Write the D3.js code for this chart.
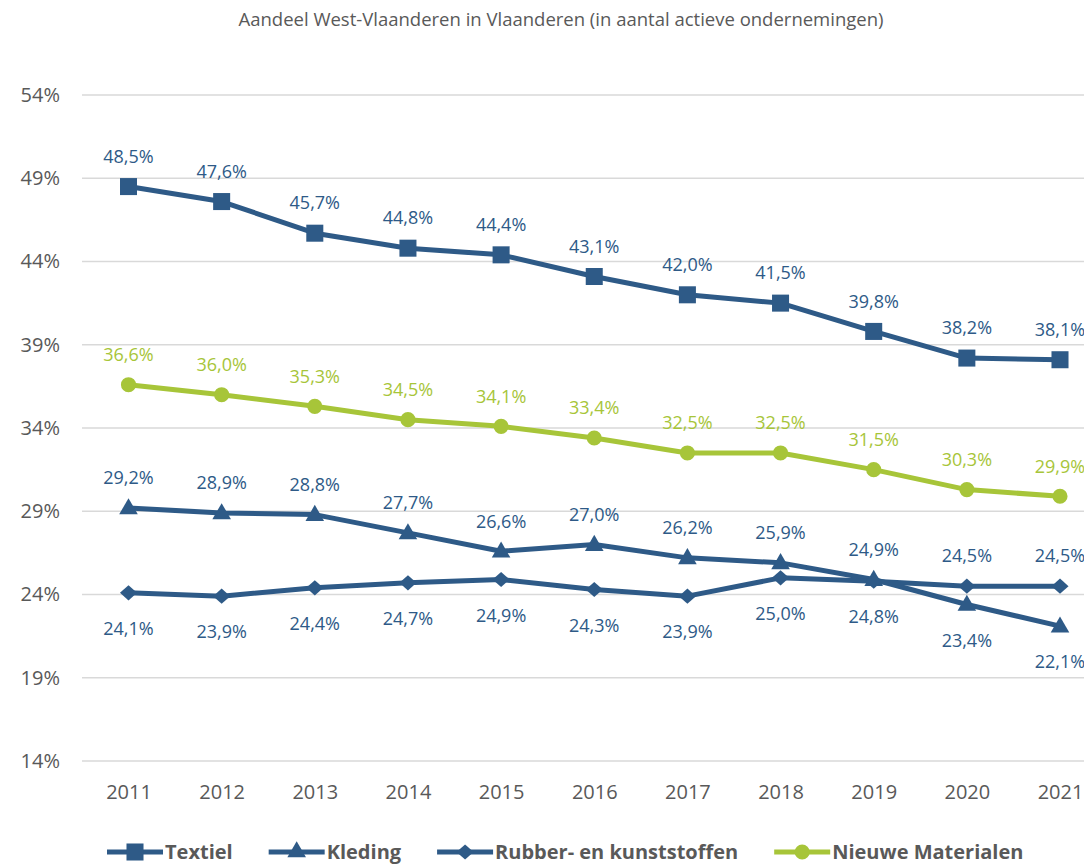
<!DOCTYPE html>
<html>
<head>
<meta charset="utf-8">
<script src="https://cdn.jsdelivr.net/npm/d3@7"></script>
<style>
  body { margin: 0; background: #fff; }
  svg { display: block; font-family: "Open Sans", "Noto Sans", sans-serif; }
</style>
</head>
<body>
<div id="chart"></div>
<script>
// data
const years = ["2011", "2012", "2013", "2014", "2015", "2016", "2017", "2018", "2019", "2020", "2021"];
const textiel = [48.5, 47.6, 45.7, 44.8, 44.4, 43.1, 42.0, 41.5, 39.8, 38.2, 38.1];
const kleding = [29.2, 28.9, 28.8, 27.7, 26.6, 27.0, 26.2, 25.9, 24.9, 23.4, 22.1];
const rubber = [24.1, 23.9, 24.4, 24.7, 24.9, 24.3, 23.9, 25.0, 24.8, 24.5, 24.5];
const nieuwe = [36.6, 36.0, 35.3, 34.5, 34.1, 33.4, 32.5, 32.5, 31.5, 30.3, 29.9];
const yTicks = [14, 19, 24, 29, 34, 39, 44, 49, 54];
// where each data label sits: a = above, b = below
const kledingLabelPos = ["a", "a", "a", "a", "a", "a", "a", "a", "a", "b", "b"];
const rubberLabelPos = ["b", "b", "b", "b", "b", "b", "b", "b", "b", "a", "a"];

const W = 1084, H = 865;
const blue = "#2E5A87", green = "#A7C539", grey = "#595959", gridCol = "#D9D9D9";

const svg = d3.select("#chart").append("svg")
  .attr("width", W).attr("height", H);

// title
svg.append("text")
  .attr("x", 561).attr("y", 26)
  .attr("text-anchor", "middle")
  .attr("fill", grey)
  .style("font-size", "18.5px")
  .text("Aandeel West-Vlaanderen in Vlaanderen (in aantal actieve ondernemingen)");

const x = d3.scalePoint().domain(years).range([128.5, 1060]);
const y = d3.scaleLinear().domain([14, 54]).range([761, 95]);

// gridlines
svg.append("g").selectAll("line")
  .data(yTicks).enter().append("line")
  .attr("x1", 82).attr("x2", W)
  .attr("y1", d => y(d)).attr("y2", d => y(d))
  .attr("stroke", gridCol).attr("stroke-width", 1.5);

// y axis labels
const yAxis = svg.append("g")
  .attr("transform", "translate(60,0)")
  .call(d3.axisLeft(y).tickValues(yTicks).tickSize(0).tickPadding(0).tickFormat(d => d + "%"));
yAxis.select(".domain").remove();
yAxis.selectAll("text")
  .attr("fill", grey)
  .style("font-size", "20px")
  .style("font-family", "'Open Sans', sans-serif");

// x axis labels
const xAxis = svg.append("g")
  .attr("transform", "translate(0,785)")
  .call(d3.axisBottom(x).tickSize(0).tickPadding(0));
xAxis.select(".domain").remove();
xAxis.selectAll("text")
  .attr("fill", grey)
  .style("font-size", "20px")
  .style("font-family", "'Open Sans', sans-serif");

// custom wide diamond
const wideDiamond = {
  draw(ctx, size) {
    const w = Math.sqrt(size) * 0.62, h = Math.sqrt(size) * 0.55;
    ctx.moveTo(0, -h); ctx.lineTo(w, 0); ctx.lineTo(0, h); ctx.lineTo(-w, 0); ctx.closePath();
  }
};

const series = [
  { name: "Textiel", values: textiel, color: blue, symbol: d3.symbolSquare, size: 290, pos: years.map(() => "a") },
  { name: "Kleding", values: kleding, color: blue, symbol: d3.symbolTriangle, size: 150, pos: kledingLabelPos },
  { name: "Rubber- en kunststoffen", values: rubber, color: blue, symbol: wideDiamond, size: 190, pos: rubberLabelPos },
  { name: "Nieuwe Materialen", values: nieuwe, color: green, symbol: d3.symbolCircle, size: 180, pos: years.map(() => "a") }
];

const line = d3.line()
  .x((d, i) => x(years[i]))
  .y(d => y(d));

const fmt = v => v.toFixed(1).replace(".", ",") + "%";

series.forEach(s => {
  const g = svg.append("g");
  g.append("path")
    .datum(s.values)
    .attr("fill", "none")
    .attr("stroke", s.color)
    .attr("stroke-width", 5)
    .attr("stroke-linejoin", "round")
    .attr("d", line);

  g.selectAll(".mk")
    .data(s.values).enter().append("path")
    .attr("transform", (d, i) => `translate(${x(years[i])},${y(d) + (s.symbol === d3.symbolTriangle ? 1 : 0)})`)
    .attr("d", d3.symbol().type(s.symbol).size(s.size))
    .attr("fill", s.color);

  g.selectAll(".lb")
    .data(s.values).enter().append("text")
    .attr("x", (d, i) => x(years[i]))
    .attr("y", (d, i) => y(d) + (s.pos[i] === "a" ? -30 : 36))
    .attr("dy", "0.35em")
    .attr("text-anchor", "middle")
    .attr("fill", s.color)
    .style("font-size", "18px")
    .text(fmt);
});

// legend
const legend = svg.append("g").attr("transform", "translate(107,852)");
let lx = 0;
series.forEach(s => {
  const item = legend.append("g").attr("transform", `translate(${lx},0)`);
  item.append("line")
    .attr("x1", 0).attr("x2", 56)
    .attr("stroke", s.color).attr("stroke-width", 5);
  item.append("path")
    .attr("transform", "translate(28,0)")
    .attr("d", d3.symbol().type(s.symbol).size(s.size))
    .attr("fill", s.color);
  const t = item.append("text")
    .attr("x", 58).attr("dy", "0.35em")
    .attr("fill", grey)
    .style("font-size", "20px")
    .style("font-weight", "bold")
    .text(s.name);
  lx += 58 + t.node().getComputedTextLength() + 36;
});
</script>
</body>
</html>
